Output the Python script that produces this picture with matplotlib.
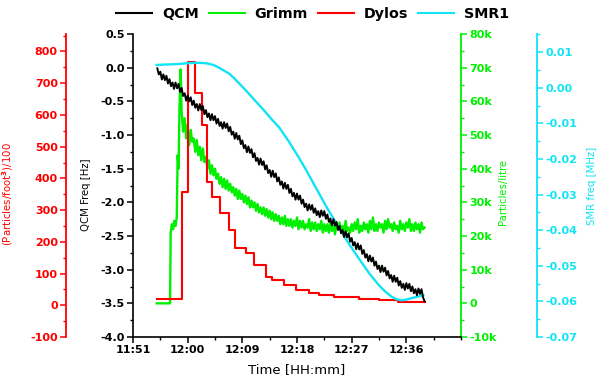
import matplotlib as mpl
import matplotlib.pyplot as plt
import numpy as np

mpl.rcParams["font.family"] = "DejaVu Sans"
mpl.rcParams["font.weight"] = "bold"
mpl.rcParams["axes.unicode_minus"] = False
mpl.rcParams["mathtext.default"] = "bf"

# --- data (time in minutes after 11:51) -------------------------------------
T0_MIN = 11 * 60 + 51

# QCM frequency shift [Hz], one sample every 15 s from 11:55
qcm_t0, qcm_dt = 4.0, 0.25
qcm_hz = [
    -0.01, -0.10, -0.06, -0.175, -0.10, -0.185, -0.12, -0.235,
    -0.17, -0.275, -0.22, -0.315, -0.22, -0.305, -0.24, -0.36,
    -0.30, -0.42, -0.38, -0.49, -0.41, -0.50, -0.44, -0.555,
    -0.49, -0.595, -0.54, -0.635, -0.54, -0.63, -0.57, -0.69,
    -0.63, -0.735, -0.68, -0.78, -0.69, -0.78, -0.72, -0.83,
    -0.76, -0.865, -0.81, -0.905, -0.81, -0.895, -0.83, -0.945,
    -0.88, -0.995, -0.95, -1.055, -0.97, -1.065, -1.01, -1.135,
    -1.08, -1.195, -1.15, -1.255, -1.17, -1.265, -1.21, -1.33,
    -1.27, -1.385, -1.34, -1.44, -1.35, -1.445, -1.39, -1.51,
    -1.45, -1.565, -1.52, -1.62, -1.53, -1.625, -1.57, -1.69,
    -1.63, -1.74, -1.69, -1.795, -1.71, -1.80, -1.74, -1.86,
    -1.80, -1.91, -1.86, -1.96, -1.87, -1.96, -1.90, -2.02,
    -1.96, -2.07, -2.02, -2.12, -2.03, -2.11, -2.04, -2.155,
    -2.09, -2.19, -2.13, -2.22, -2.12, -2.20, -2.13, -2.245,
    -2.18, -2.29, -2.24, -2.34, -2.25, -2.345, -2.29, -2.41,
    -2.35, -2.46, -2.41, -2.515, -2.43, -2.52, -2.46, -2.585,
    -2.53, -2.64, -2.59, -2.695, -2.61, -2.70, -2.64, -2.765,
    -2.71, -2.82, -2.77, -2.875, -2.79, -2.88, -2.82, -2.94,
    -2.88, -2.99, -2.94, -3.035, -2.94, -3.03, -2.97, -3.085,
    -3.02, -3.13, -3.08, -3.18, -3.09, -3.18, -3.12, -3.235,
    -3.17, -3.27, -3.21, -3.30, -3.20, -3.28, -3.21, -3.32,
    -3.25, -3.35, -3.29, -3.38, -3.28, -3.36, -3.29, -3.41,
    -3.47,
]

# Grimm particle count [k particles/litre]: switch-on and first peak ...
grimm_rise_min = [3.9, 6.1, 6.2, 6.4, 6.6, 6.8, 7.0, 7.2, 7.35, 7.5, 7.65, 7.85]
grimm_rise_k = [0.0, 0.0, 21.0, 23.5, 22.0, 24.5, 23.0, 25.5, 44.0, 40.0, 58.0, 69.5]
# ... then one sample every 15 s from 11:59
grimm_t0, grimm_dt = 8.0, 0.25
grimm_k = [
    57, 51, 55, 49, 53, 47, 51.5, 48,
    49, 45, 48.5, 44, 46.5, 42.5, 46, 42,
    43.5, 40, 42.5, 38.5, 41, 38, 40, 37,
    38.5, 35.5, 37.5, 34.5, 37, 34, 36.5, 33.5,
    35.5, 33, 34.5, 32, 34, 31, 33.5, 31,
    32.5, 30, 32, 29.5, 31.5, 28.5, 30.5, 28.5,
    30, 27.5, 29.5, 27, 28.5, 26.5, 28.5, 26,
    28, 25.5, 27.5, 25, 27, 24.5, 26.5, 24.5,
    26, 23.5, 25.5, 23.5, 26, 23, 25, 23,
    25, 22.5, 24.5, 23, 25.5, 22, 24.5, 22.5,
    24.5, 22, 23.5, 22.5, 25, 21.5, 24, 22,
    24, 21.5, 23.5, 22, 24.5, 21, 23.5, 21.5,
    23.5, 21, 24, 21.5, 23, 20.5, 23.5, 22,
    24, 21.5, 23, 20.5, 24.5, 21.5, 22.5, 21,
    23.5, 21.5, 24, 22, 25, 21, 23, 21.5,
    24, 22, 23.5, 21, 24.5, 22, 25.5, 21.5,
    23.5, 21.5, 24, 22.5, 23.5, 21, 24.5, 22,
    25, 22.5, 23.5, 21.5, 24, 22, 23, 21,
    24.5, 22, 23.5, 21.5, 24, 22.5, 25, 21.5,
    23.5, 21.5, 24, 22, 23.5, 21, 24, 22,
    22.5,
]

# Dylos counts [(particles/foot^3)/100], one value per step
dylos_min = [3.93, 8.02, 9.0, 10.15, 11.29, 12.11, 12.93, 14.24, 15.88, 16.86, 18.66,
             19.97, 21.93, 22.91, 24.88, 26.84, 28.97, 30.61, 33.06, 37.15, 40.43,
             43.70, 48.12]
dylos_val = [19, 356, 767, 669, 568, 388, 341, 290, 237, 180, 164,
             126, 88, 79, 63, 47, 38, 32, 25, 19, 16,
             9, 9]

# SMR1 frequency [MHz]
smr_min = [3.9, 5.0, 6.5, 7.7, 9.0, 10.0, 11.0, 12.0, 12.6, 13.4, 14.2, 15.0, 15.9,
           17.5, 19.1, 20.3, 21.6, 22.8, 24.1, 25.7, 27.3, 28.4, 29.5, 30.8, 32.2,
           33.9, 35.5, 37.2, 38.8, 40.4, 41.5, 42.6, 43.4, 44.2, 45.0, 45.8, 46.8, 47.8]
smr_mhz = [0.0064, 0.0065, 0.0066, 0.0067, 0.0069, 0.0070, 0.0070, 0.0069, 0.0067,
           0.0063, 0.0056, 0.0048, 0.0039, 0.0012, -0.0017, -0.0040, -0.0064,
           -0.0088, -0.0112, -0.0152, -0.0196, -0.0228, -0.0262, -0.0302, -0.0345,
           -0.0392, -0.0437, -0.0480, -0.0519, -0.0553, -0.0572, -0.0587, -0.0594,
           -0.0597, -0.0595, -0.0591, -0.0587, -0.0583]

x_ticks = [0, 9, 18, 27, 36, 45]
qcm_ticks = [0.5, 0.0, -0.5, -1.0, -1.5, -2.0, -2.5, -3.0, -3.5, -4.0]
dylos_ticks = [800, 700, 600, 500, 400, 300, 200, 100, 0, -100]
grimm_ticks = [80000, 70000, 60000, 50000, 40000, 30000, 20000, 10000, 0, -10000]
smr_ticks = [0.01, 0.00, -0.01, -0.02, -0.03, -0.04, -0.05, -0.06, -0.07]

C_GREEN = "#00F000"
C_RED = "#FF0000"
C_CYAN = "#10E4F4"

qcm_t = qcm_t0 + qcm_dt * np.arange(len(qcm_hz))
grimm_t = np.concatenate([grimm_rise_min, grimm_t0 + grimm_dt * np.arange(len(grimm_k))])
grimm_v = np.concatenate([grimm_rise_k, grimm_k]) * 1000

fig = plt.figure(figsize=(6.06, 3.87), dpi=100)
ax = fig.add_axes([0.2195, 0.1292, 0.5412, 0.7829])
ax_g = ax.twinx()
ax_r = ax.twinx()
ax_c = ax.twinx()

TICK_FS = 8
LABEL_FS = 7.3


def _style(a, color, side, pos):
    for s in a.spines.values():
        s.set_visible(False)
    sp = a.spines[side]
    sp.set_visible(True)
    sp.set_color(color)
    sp.set_linewidth(1.3)
    if pos is not None:
        sp.set_position(("axes", pos))
    a.yaxis.set_ticks_position(side)
    a.yaxis.set_label_position(side)
    a.tick_params(axis="y", which="major", colors=color, length=4, width=1.1,
                  labelsize=TICK_FS, pad=2)
    a.tick_params(axis="y", which="minor", colors=color, length=2.2, width=1.0)
    a.yaxis.label.set_color(color)


ax.plot(qcm_t, qcm_hz, color="black", lw=1.4, label="QCM")
ax_g.plot(grimm_t, grimm_v, color=C_GREEN, lw=1.7, label="Grimm")
ax_r.plot(dylos_min, dylos_val, color=C_RED, lw=1.5, drawstyle="steps-post", label="Dylos")
ax_c.plot(smr_min, smr_mhz, color=C_CYAN, lw=1.7, label="SMR1")

ax.set_zorder(5)
ax.patch.set_visible(False)
for s in ("top", "right"):
    ax.spines[s].set_visible(False)
for s in ("left", "bottom"):
    ax.spines[s].set_linewidth(1.2)

ax.set_xlim(0, 54)
ax.set_xticks(x_ticks)
ax.xaxis.set_minor_locator(mpl.ticker.MultipleLocator(4.5))
ax.xaxis.set_major_formatter(mpl.ticker.FuncFormatter(
    lambda m, _: f"{int(T0_MIN + m) // 60}:{int(T0_MIN + m) % 60:02d}"))
ax.set_ylim(-4.0, 0.5)
ax.set_yticks(qcm_ticks)
ax.yaxis.set_major_formatter(mpl.ticker.FormatStrFormatter("%.1f"))
ax.yaxis.set_minor_locator(mpl.ticker.MultipleLocator(0.25))
ax.tick_params(which="major", length=4, width=1.1, labelsize=TICK_FS, pad=2)
ax.tick_params(which="minor", length=2.2, width=1.0)
ax.set_xlabel("Time [HH:mm]", fontsize=9.5)
ax.xaxis.set_label_coords(0.5, -0.085)
ax.set_ylabel("QCM Freq [Hz]", fontsize=LABEL_FS)
ax.yaxis.set_label_coords(-0.128, 0.47)

_style(ax_g, C_GREEN, "right", None)
ax_g.set_ylim(-10000, 80000)
ax_g.set_yticks(grimm_ticks)
ax_g.yaxis.set_minor_locator(mpl.ticker.MultipleLocator(5000))
ax_g.yaxis.set_major_formatter(mpl.ticker.FuncFormatter(
    lambda v, _: "0" if v == 0 else f"{int(v / 1000)}k"))
ax_g.set_ylabel("Particles/litre", fontsize=LABEL_FS)
ax_g.yaxis.set_label_coords(1.112, 0.48)

_style(ax_r, C_RED, "left", -0.204)
ax_r.set_ylim(-100, 855)
ax_r.set_yticks(dylos_ticks)
ax_r.yaxis.set_minor_locator(mpl.ticker.MultipleLocator(50))
ax_r.set_ylabel(r"(Particles/foot$^{3}$)/100", fontsize=LABEL_FS)
ax_r.yaxis.set_label_coords(-0.36, 0.47)

_style(ax_c, C_CYAN, "right", 1.232)
ax_c.set_ylim(-0.07, 0.0151)
ax_c.set_yticks(smr_ticks)
ax_c.yaxis.set_minor_locator(mpl.ticker.MultipleLocator(0.005))
ax_c.yaxis.set_major_formatter(mpl.ticker.FormatStrFormatter("%.2f"))
ax_c.set_ylabel("SMR freq [MHz]", fontsize=LABEL_FS)
ax_c.yaxis.set_label_coords(1.383, 0.5)

handles = [ax.lines[0], ax_g.lines[0], ax_r.lines[0], ax_c.lines[0]]
fig.legend(handles, [h.get_label() for h in handles], ncol=4, loc="center",
           bbox_to_anchor=(0.516, 0.964), frameon=False, fontsize=10.3,
           handlelength=2.5, handletextpad=0.7, columnspacing=0.7,
           borderpad=0, borderaxespad=0)
for h in fig.legends[0].legend_handles:
    h.set_linewidth(1.5)

fig.savefig("out.png", dpi=100, facecolor="white")
